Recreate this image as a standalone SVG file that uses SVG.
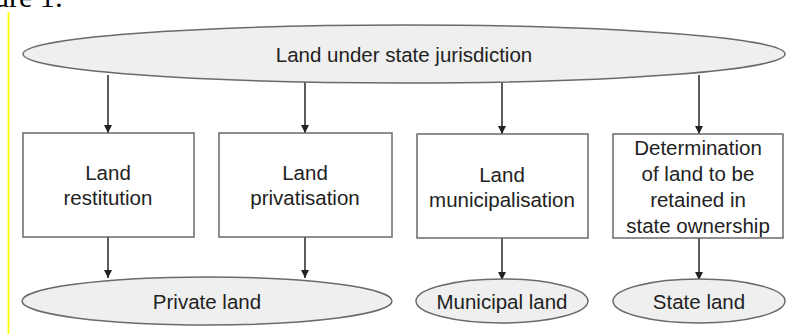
<svg xmlns="http://www.w3.org/2000/svg" width="787" height="334" viewBox="0 0 787 334">
<style>
.ell{fill:#efefef;stroke:#6a6a6a;stroke-width:1.5}
.box{fill:#fff;stroke:#6a6a6a;stroke-width:1.5}
.t{font-family:"Liberation Sans",Arial,sans-serif;font-size:20.5px;fill:#222;text-anchor:middle}
.c{stroke:#333;stroke-width:1.6;fill:none;marker-end:url(#ah)}
</style>
<defs>
<marker id="ah" viewBox="0 0 10 10" refX="10" refY="5" markerWidth="8" markerHeight="8" markerUnits="userSpaceOnUse" orient="auto">
<path d="M0,0 L10,5 L0,10 z" fill="#222"/>
</marker>
</defs>
<rect width="787" height="334" fill="#fff"/>
<text x="-6" y="7" font-family="Liberation Serif,serif" font-size="30" fill="#000">ure 1:</text>
<line x1="8.5" y1="12" x2="8.5" y2="334" stroke="#ffff00" stroke-width="1.8"/>
<g id="connectors">
<line class="c" x1="108" y1="75" x2="108" y2="133"/>
<line class="c" x1="305" y1="82" x2="305" y2="133"/>
<line class="c" x1="502" y1="82" x2="502" y2="134"/>
<line class="c" x1="699" y1="75" x2="699" y2="134"/>
<line class="c" x1="108" y1="237" x2="108" y2="278"/>
<line class="c" x1="305" y1="237" x2="305" y2="278"/>
<line class="c" x1="502" y1="238" x2="502" y2="280"/>
<line class="c" x1="699" y1="238" x2="699" y2="280"/>
</g>
<g id="top">
<ellipse class="ell" cx="404" cy="54" rx="381" ry="29"/>
<text class="t" x="404" y="62">Land under state jurisdiction</text>
</g>
<g id="restitution">
<rect class="box" x="23" y="133" width="171" height="104"/>
<text class="t" x="108" y="180">Land</text>
<text class="t" x="108" y="205">restitution</text>
</g>
<g id="privatisation">
<rect class="box" x="219" y="133" width="173" height="104"/>
<text class="t" x="305" y="180">Land</text>
<text class="t" x="305" y="205">privatisation</text>
</g>
<g id="municipalisation">
<rect class="box" x="417" y="134" width="171" height="104"/>
<text class="t" x="502" y="182">Land</text>
<text class="t" x="502" y="207">municipalisation</text>
</g>
<g id="determination">
<rect class="box" x="613" y="134" width="170" height="104"/>
<text class="t" x="698" y="155">Determination</text>
<text class="t" x="698" y="181">of land to be</text>
<text class="t" x="698" y="207">retained in</text>
<text class="t" x="698" y="233">state ownership</text>
</g>
<g id="private">
<ellipse class="ell" cx="207" cy="301" rx="185" ry="24"/>
<text class="t" x="207" y="309">Private land</text>
</g>
<g id="municipal">
<ellipse class="ell" cx="502" cy="301" rx="86" ry="22"/>
<text class="t" x="502" y="309">Municipal land</text>
</g>
<g id="state">
<ellipse class="ell" cx="699" cy="301" rx="86" ry="22"/>
<text class="t" x="699" y="309">State land</text>
</g>
</svg>
